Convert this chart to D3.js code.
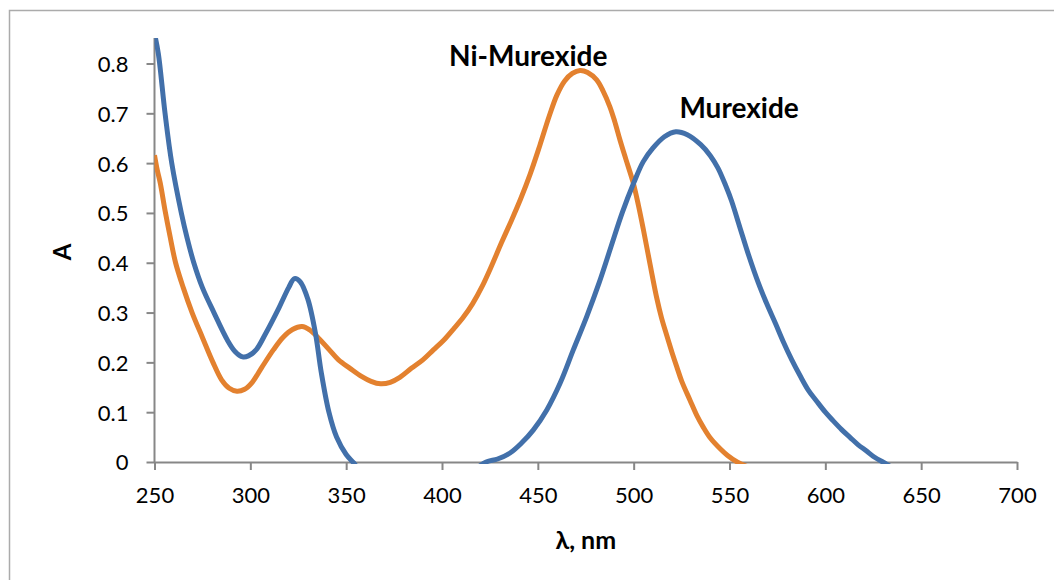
<!DOCTYPE html>
<html>
<head>
<meta charset="utf-8">
<script src="https://cdn.jsdelivr.net/npm/d3@7"></script>
<style>
  html, body { margin: 0; padding: 0; background: #fff; }
  svg { display: block; }
</style>
</head>
<body>
<svg id="chart" width="1054" height="580"></svg>
<script>
// ---- data ----
const murexideWl = [250, 252, 255.5, 259, 264, 267, 270.5, 275, 281, 288, 292, 296, 299, 303, 308, 315, 320, 323, 326, 330, 334, 337, 341, 345, 350, 354, 360, 380, 400, 415, 423, 429, 435.5, 441.5, 447.6, 454.6, 461.6, 468.5, 475.5, 482, 488, 494, 500, 505, 510, 516, 522, 528, 535, 540, 544, 548, 551, 555.5, 560, 565, 569.4, 574, 578, 582.5, 587, 591, 595.5, 600, 604, 608.5, 613, 617, 621.5, 625.5, 630, 640, 660, 700];
const murexideA  = [0.86, 0.82, 0.70, 0.60, 0.50, 0.45, 0.40, 0.35, 0.30, 0.245, 0.222, 0.211, 0.213, 0.225, 0.258, 0.31, 0.35, 0.368, 0.362, 0.327, 0.258, 0.18, 0.10, 0.05, 0.015, -0.002, -0.03, -0.05, -0.04, -0.02, 0.0, 0.006, 0.018, 0.038, 0.064, 0.104, 0.158, 0.225, 0.292, 0.36, 0.43, 0.50, 0.56, 0.603, 0.63, 0.653, 0.663, 0.657, 0.637, 0.615, 0.59, 0.555, 0.525, 0.47, 0.415, 0.36, 0.318, 0.278, 0.242, 0.205, 0.172, 0.145, 0.122, 0.10, 0.083, 0.065, 0.049, 0.035, 0.022, 0.01, 0.0, -0.02, -0.03, -0.03];

const niMurexideWl = [250, 251.5, 253, 255.5, 258, 261, 265, 269.6, 275, 280.5, 285, 289, 293, 297, 301, 306, 312, 317, 322, 327, 331, 336, 341, 346, 352, 358, 363, 368, 373, 378, 384, 390, 395.5, 401, 406, 411, 416, 421, 426, 431, 436, 441, 446, 451, 456, 460, 464, 468, 472, 476, 480.7, 484, 487.6, 490, 492.9, 496, 499.8, 502.5, 505, 508.5, 512, 514.5, 517.2, 520, 522.5, 525, 529.4, 533, 536.3, 540, 545, 549, 554, 560, 580, 700];
const niMurexideA  = [0.616, 0.585, 0.56, 0.505, 0.455, 0.40, 0.35, 0.30, 0.25, 0.20, 0.165, 0.148, 0.142, 0.146, 0.16, 0.19, 0.225, 0.25, 0.266, 0.272, 0.265, 0.247, 0.226, 0.205, 0.188, 0.172, 0.162, 0.157, 0.16, 0.17, 0.188, 0.205, 0.225, 0.245, 0.267, 0.29, 0.318, 0.353, 0.395, 0.44, 0.483, 0.528, 0.578, 0.635, 0.695, 0.737, 0.765, 0.780, 0.786, 0.782, 0.767, 0.745, 0.713, 0.685, 0.646, 0.607, 0.56, 0.515, 0.468, 0.398, 0.33, 0.29, 0.255, 0.22, 0.191, 0.163, 0.124, 0.093, 0.07, 0.048, 0.027, 0.013, 0.0, -0.01, -0.02, -0.02];

const seriesNames = ["Murexide", "Ni-Murexide"];
const labelPos = { "Murexide": [555, 0.691], "Ni-Murexide": [445, 0.795] };

const xTicks = [250, 300, 350, 400, 450, 500, 550, 600, 650, 700];
const yTicks = [0, 0.1, 0.2, 0.3, 0.4, 0.5, 0.6, 0.7, 0.8];
const xTitle = "λ, nm";
const yTitle = "A";

// ---- layout ----
const colors = { "Murexide": "#4270aa", "Ni-Murexide": "#e3812f" };
const plot = { left: 154.5, right: 1017, top: 38, bottom: 462 };
const axisColor = "#878787";
const font = "Lato, 'Open Sans', sans-serif";

const svg = d3.select("#chart");

// outer chart border
svg.append("rect")
  .attr("x", 9.5).attr("y", 10.5)
  .attr("width", 1200).attr("height", 700)
  .attr("fill", "none").attr("stroke", "#ababab").attr("stroke-width", 1.5);

const x = d3.scaleLinear().domain([250, 700]).range([plot.left, plot.right]);
const y = d3.scaleLinear().domain([0, 0.8]).range([plot.bottom, 63.5]);

svg.append("clipPath").attr("id", "clip")
  .append("rect")
  .attr("x", plot.left).attr("y", plot.top)
  .attr("width", plot.right - plot.left).attr("height", plot.bottom - plot.top + 2);

// axes
const yAxis = svg.append("g")
  .attr("transform", `translate(${plot.left},0)`)
  .call(d3.axisLeft(y).tickValues(yTicks).tickSize(8).tickSizeOuter(0)
        .tickFormat(d => d === 0 ? "0" : d3.format(".1f")(d)));
yAxis.select(".domain").attr("d", `M0,${plot.top}V${plot.bottom}`);

const xAxis = svg.append("g")
  .attr("transform", `translate(0,${plot.bottom})`)
  .call(d3.axisBottom(x).tickValues(xTicks).tickSize(8).tickSizeOuter(0).tickFormat(d3.format("d")));

[xAxis, yAxis].forEach(g => {
  g.select(".domain").attr("stroke", axisColor).attr("stroke-width", 2);
  g.selectAll(".tick line").attr("stroke", axisColor).attr("stroke-width", 2);
  g.selectAll(".tick text").attr("fill", "#000")
    .style("font-family", font).style("font-size", "22px");
});
yAxis.selectAll(".tick text").attr("x", -26).attr("dy", "0.36em");
xAxis.selectAll(".tick text").attr("y", 25).attr("dy", "0.71em");

// lines
const line = d3.line()
  .x(d => x(d[0])).y(d => y(d[1]))
  .curve(d3.curveCatmullRom.alpha(0.5));

const data = {
  "Murexide": d3.zip(murexideWl, murexideA),
  "Ni-Murexide": d3.zip(niMurexideWl, niMurexideA)
};

const g = svg.append("g").attr("clip-path", "url(#clip)");
["Ni-Murexide", "Murexide"].forEach(name => {
  g.append("path")
    .datum(data[name])
    .attr("d", line)
    .attr("fill", "none")
    .attr("stroke", colors[name])
    .attr("stroke-width", 5)
    .attr("stroke-linejoin", "round")
    .attr("stroke-linecap", "butt");
});

// series labels
seriesNames.forEach(name => {
  svg.append("text")
    .attr("x", x(labelPos[name][0]))
    .attr("y", y(labelPos[name][1]))
    .attr("text-anchor", "middle")
    .style("font-family", font).style("font-size", "28px").style("font-weight", "bold")
    .text(name);
});

// axis titles
svg.append("text")
  .attr("x", (plot.left + plot.right) / 2).attr("y", 549)
  .attr("text-anchor", "middle")
  .style("font-family", font).style("font-size", "25px").style("font-weight", "bold")
  .text(xTitle);

svg.append("text")
  .attr("transform", `translate(71,${(plot.top + plot.bottom) / 2 + 2}) rotate(-90)`)
  .attr("text-anchor", "middle")
  .style("font-family", font).style("font-size", "24px").style("font-weight", "bold")
  .text(yTitle);
</script>
</body>
</html>
